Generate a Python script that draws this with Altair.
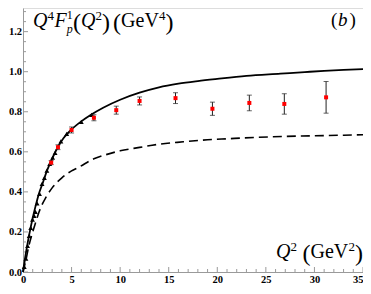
import altair as alt
import pandas as pd

# ---------------- data ----------------
solid_q2 = [0, 0.15, 0.3, 0.5, 0.8, 1.0, 1.3, 1.6, 2.0, 2.5, 3.0, 3.6, 4.2, 5.0, 6.0, 7.0,
            8.25, 10.0, 12.0, 14.0, 16.0, 18.0, 20.0, 23.0, 26.5, 29.0, 31.0, 33.0, 35.0]
solid_val = [0, 0.05, 0.095, 0.15, 0.225, 0.27, 0.33, 0.385, 0.44, 0.51, 0.565, 0.625, 0.67,
             0.712, 0.752, 0.785, 0.82, 0.86, 0.895, 0.922, 0.94, 0.953, 0.964, 0.979, 0.99,
             0.998, 1.004, 1.009, 1.013]

dashed_q2 = [0, 0.3, 0.6, 1.0, 1.32, 1.65, 2.0, 2.33, 3.0, 4.0, 5.0, 5.7, 7.3, 8.5, 10.0,
             12.0, 14.0, 16.5, 19.0, 21.0, 24.0, 27.0, 30.0, 33.0, 35.0]
dashed_val = [0, 0.06, 0.13, 0.2, 0.25, 0.30, 0.34, 0.37, 0.42, 0.47, 0.505, 0.522, 0.565,
              0.585, 0.605, 0.622, 0.638, 0.65, 0.66, 0.665, 0.672, 0.677, 0.68, 0.683, 0.685]

red_q2 = [2.9, 3.6, 5.0, 7.3, 9.6, 12.0, 15.7, 19.5, 23.3, 26.9, 31.2]
red_val = [0.546, 0.623, 0.709, 0.77, 0.808, 0.854, 0.868, 0.815, 0.844, 0.839, 0.872]
red_err = [0.01, 0.012, 0.015, 0.015, 0.02, 0.02, 0.027, 0.033, 0.039, 0.051, 0.079]

black_q2 = [0.13, 0.3, 0.47, 0.64, 0.8, 0.98, 1.15, 1.28, 1.45, 1.7, 1.96, 2.2, 2.46,
            2.75, 3.05, 3.3, 3.9, 4.5, 6.0, 7.06]
black_val = [0.026, 0.067, 0.13, 0.18, 0.22, 0.262, 0.28, 0.30, 0.343, 0.39, 0.44, 0.47,
             0.506, 0.54, 0.571, 0.595, 0.652, 0.69, 0.75, 0.785]

x_major = [0, 5, 10, 15, 20, 25, 30, 35]
x_minor = [v for v in range(1, 35) if v % 5 != 0]
y_major = [0.0, 0.2, 0.4, 0.6, 0.8, 1.0, 1.2]
y_minor = [round(0.05 * i, 2) for i in range(1, 27) if i % 4 != 0]

# ---------------- layout ----------------
W, H = 340, 264
PL, PT = 15, 0          # padding left/top -> plot origin on page = (8+PL, 8+PT)
OX, OY = 8 + PL, 8 + PT

xs = alt.Scale(domain=[0, 35], nice=False, zero=False)
ys = alt.Scale(domain=[0, 1.318], nice=False, zero=False)

SERIF = "Liberation Serif"
AX = "#9a9a9a"

xaxis = alt.Axis(values=x_major, format="d", ticks=False, tickSize=0, grid=False,
                 domainColor=AX, domainWidth=1, labelFont=SERIF, labelFontWeight="bold",
                 labelFontSize=10.5, labelColor="black", labelPadding=2, title=None,
                 labelAlign={"condition": {"test": "datum.value === 35", "value": "right"},
                             "value": "center"})
yaxis = alt.Axis(values=y_major, format=".1f", ticks=False, tickSize=0, grid=False,
                 domainColor=AX, domainWidth=1, labelFont=SERIF, labelFontWeight="bold",
                 labelFontSize=10.5, labelColor="black", labelPadding=1.5, title=None)

X = lambda f: alt.X(f, type="quantitative", scale=xs, axis=xaxis)
Y = lambda f: alt.Y(f, type="quantitative", scale=ys, axis=yaxis)

solid_df = pd.DataFrame({"q2": solid_q2, "v": solid_val})
dashed_df = pd.DataFrame({"q2": dashed_q2, "v": dashed_val})
red_df = pd.DataFrame({"q2": red_q2, "v": red_val, "e": red_err})
red_df["lo"] = red_df["v"] - red_df["e"]
red_df["hi"] = red_df["v"] + red_df["e"]
black_df = pd.DataFrame({"q2": black_q2, "v": black_val})

dashed = alt.Chart(dashed_df).mark_line(color="black", strokeWidth=1.6,
                                        strokeDash=[9, 5], interpolate="monotone").encode(
    x=X("q2"), y=Y("v"))
solid = alt.Chart(solid_df).mark_line(color="black", strokeWidth=1.8,
                                      interpolate="monotone").encode(x=X("q2"), y=Y("v"))
black_pts = alt.Chart(black_df).mark_point(shape="triangle-up", filled=True, size=24,
                                           color="black", opacity=1).encode(
    x=X("q2"), y=Y("v"))
err = alt.Chart(red_df).mark_rule(color="#222", strokeWidth=1).encode(
    x=X("q2"), y=Y("lo"), y2="hi")
cap_lo = alt.Chart(red_df).mark_tick(color="#222", orient="horizontal", size=5,
                                     thickness=1).encode(x=X("q2"), y=Y("lo"))
cap_hi = alt.Chart(red_df).mark_tick(color="#222", orient="horizontal", size=5,
                                     thickness=1).encode(x=X("q2"), y=Y("hi"))
red_pts = alt.Chart(red_df).mark_square(color="red", size=16, opacity=1).encode(
    x=X("q2"), y=Y("v"))

# inward ticks (Mathematica style)
xt_major = alt.Chart(pd.DataFrame({"t": x_major})).mark_rule(color=AX).encode(
    x=X("t"), y=alt.value(H), y2=alt.value(H - 5))
xt_minor = alt.Chart(pd.DataFrame({"t": x_minor})).mark_rule(color=AX).encode(
    x=X("t"), y=alt.value(H), y2=alt.value(H - 3))
yt_major = alt.Chart(pd.DataFrame({"t": y_major})).mark_rule(color=AX).encode(
    y=Y("t"), x=alt.value(0), x2=alt.value(5))
yt_minor = alt.Chart(pd.DataFrame({"t": y_minor})).mark_rule(color=AX).encode(
    y=Y("t"), x=alt.value(0), x2=alt.value(3))


def txt(s, px, py, size, style="normal"):
    return alt.Chart(pd.DataFrame({"t": [s]})).mark_text(
        text=s, font=SERIF, fontSize=size, fontStyle=style, color="black",
        align="left", baseline="alphabetic").encode(
        x=alt.value(px - OX), y=alt.value(py - OY))


texts = [
    # title  Q^4 F^1_p(Q^2)  (GeV^4)
    txt("Q", 33, 27, 20, "italic"),
    txt("4", 47.6, 20, 13),
    txt("F", 54.5, 27, 20, "italic"),
    txt("1", 66.8, 19, 12),
    txt("p", 66.8, 32.5, 12, "italic"),
    txt("(", 72.9, 30, 24),
    txt("Q", 81, 27, 20, "italic"),
    txt("2", 95.5, 20, 13),
    txt(")", 102.1, 30, 24),
    txt("(", 113, 30, 24),
    txt("GeV", 121.1, 27, 20),
    txt("4", 159, 20, 13),
    txt(")", 165.6, 30, 24),
    # (b)
    txt("(", 331, 25.5, 19),
    txt("b", 338, 25.5, 19, "italic"),
    txt(")", 349.5, 25.5, 19),
    # Q^2 (GeV^2)
    txt("Q", 276, 258, 20, "italic"),
    txt("2", 290.5, 251, 13),
    txt("(", 302.4, 261, 24),
    txt("GeV", 310.5, 258, 20),
    txt("2", 348.4, 251, 13),
    txt(")", 355, 261, 24),
]

chart = alt.layer(
    xt_major, xt_minor, yt_major, yt_minor,
    dashed, solid, black_pts, err, cap_lo, cap_hi, red_pts, *texts
).properties(
    width=W, height=H,
    autosize=alt.AutoSizeParams(type="none"),
    padding={"left": PL, "top": PT, "right": 0, "bottom": 14},
).configure_view(stroke=None).configure(background="white")

chart.save("out.html", embed_options={"renderer": "svg", "actions": False})
